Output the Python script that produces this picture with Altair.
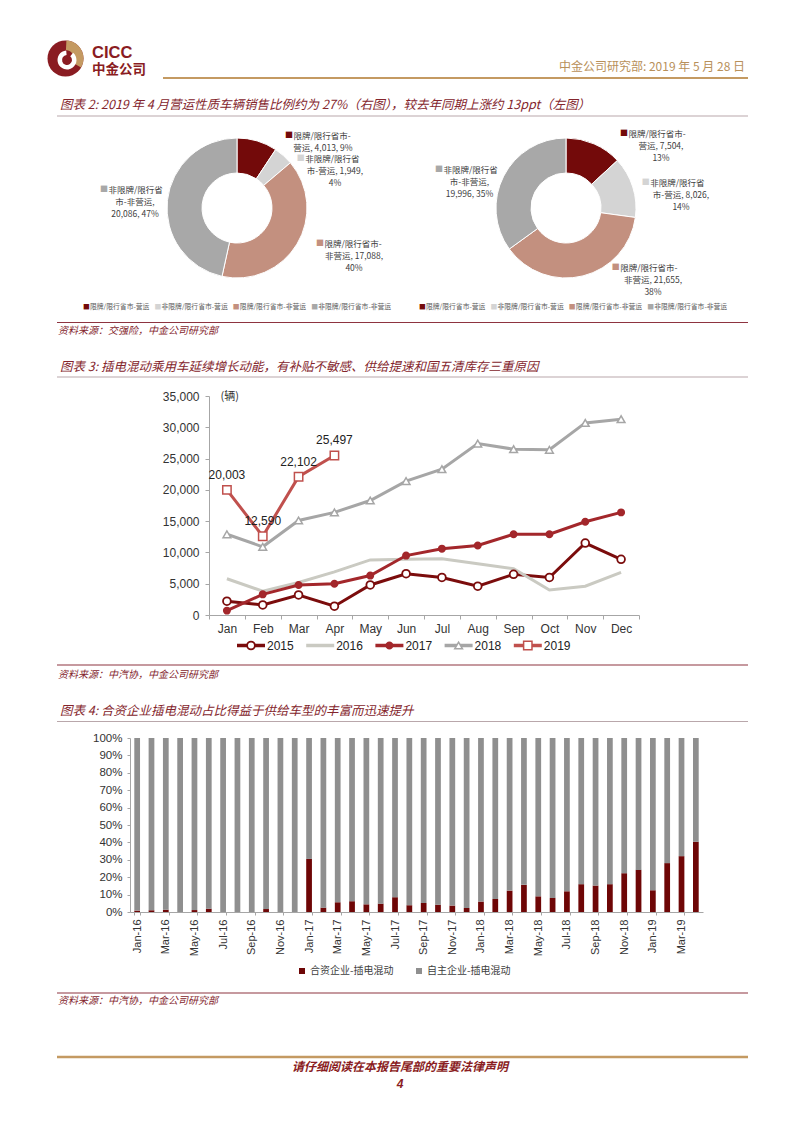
import altair as alt
import pandas as pd

CJK = "Noto Sans CJK SC"
SANS = "Liberation Sans"
MAROON = "#84252C"
DARKRED = "#8A1C22"
GOLD = "#C49A62"
TITLE_LINE = "#B9A7AB"
SRC_LINE = "#8E3440"
TXT = "#333333"

# ---------------- texts ----------------
logo_en = "CICC"
logo_cn = "中金公司"
header_text = "中金公司研究部: 2019 年 5 月 28 日"
title2 = "图表 2: 2019 年 4 月营运性质车辆销售比例约为 27%（右图），较去年同期上涨约 13ppt（左图）"
title3 = "图表 3: 插电混动乘用车延续增长动能，有补贴不敏感、供给提速和国五清库存三重原因"
title4 = "图表 4: 合资企业插电混动占比得益于供给车型的丰富而迅速提升"
source2 = "资料来源：交强险，中金公司研究部"
source3 = "资料来源：中汽协，中金公司研究部"
source4 = "资料来源：中汽协，中金公司研究部"
footer = "请仔细阅读在本报告尾部的重要法律声明"
page_no = "4"

# ---------------- donut data ----------------
donut_cats = ["限牌/限行省市-营运", "非限牌/限行省市-营运", "限牌/限行省市-非营运", "非限牌/限行省市-非营运"]
donut_colors = ["#730A0A", "#D4D4D4", "#C3907F", "#A8A8A8"]
left_vals = [4013, 1949, 17088, 20086]
left_pcts = [9, 4, 40, 47]
right_vals = [7504, 8026, 21655, 19996]
right_pcts = [13, 14, 38, 35]

left_label_lines = [
    ["限牌/限行省市-", f"营运, {left_vals[0]:,}, {left_pcts[0]}%"],
    ["非限牌/限行省", f"市-营运, {left_vals[1]:,},", f"{left_pcts[1]}%"],
    ["限牌/限行省市-", f"非营运, {left_vals[2]:,},", f"{left_pcts[2]}%"],
    ["非限牌/限行省", "市-非营运,", f"{left_vals[3]:,}, {left_pcts[3]}%"],
]
right_label_lines = [
    ["限牌/限行省市-", f"营运, {right_vals[0]:,},", f"{right_pcts[0]}%"],
    ["非限牌/限行省", f"市-营运, {right_vals[1]:,},", f"{right_pcts[1]}%"],
    ["限牌/限行省市-", f"非营运, {right_vals[2]:,},", f"{right_pcts[2]}%"],
    ["非限牌/限行省", "市-非营运,", f"{right_vals[3]:,}, {right_pcts[3]}%"],
]

# ---------------- line chart data ----------------
months = ["Jan", "Feb", "Mar", "Apr", "May", "Jun", "Jul", "Aug", "Sep", "Oct", "Nov", "Dec"]
series = ["2015", "2016", "2017", "2018", "2019"]
v2015 = [2200, 1600, 3200, 1400, 4800, 6600, 6000, 4600, 6500, 6000, 11500, 8900]
v2016 = [5800, 3800, 5200, 6900, 8800, 8900, 9000, 8200, 7400, 4000, 4600, 6800]
v2017 = [700, 3300, 4800, 5000, 6300, 9500, 10600, 11100, 12900, 12900, 14900, 16400]
v2018 = [12900, 10900, 15100, 16400, 18300, 21400, 23300, 27400, 26500, 26400, 30700, 31300]
v2019 = [20003, 12590, 22102, 25497]
line_colors = ["#7B0C0C", "#CACAC2", "#A3272B", "#A6A6A6", "#C0504D"]
y_unit = "(辆)"

# marker style per series (2016 has none)
marker_specs = [("2015", "circle", "#FFFFFF", 60, 1.8),
                ("2017", "circle", "#A3272B", 42, 1.5),
                ("2018", "triangle-up", "#FFFFFF", 60, 1.5),
                ("2019", "square", "#FFFFFF", 70, 1.5)]

# ---------------- bar chart data ----------------
bar_months = [f"{m}-{y}" for y in ["16", "17", "18", "19"] for m in months][:40]
jv_share = [0.8, 1.0, 1.3, 0, 1.1, 1.9, 0, 0, 0, 1.7, 0, 0,
            30.5, 2.5, 5.6, 6.2, 4.4, 4.8, 8.5, 3.9, 5.2, 4.2, 3.7, 2.3,
            6.0, 7.5, 12.3, 15.6, 9.0, 8.1, 11.9, 16.0, 15.2, 16.0, 22.3, 24.2,
            12.5, 28.1, 32.1, 40.4]
bar_series = ["合资企业-插电混动", "自主企业-插电混动"]
bar_colors = ["#6E0606", "#8F8F8F"]

DUMMY = pd.DataFrame({"d": [0]})
ALL_INDEP = dict(color="independent", stroke="independent", fill="independent", shape="independent",
                 x="independent", y="independent")


def txt(s, px, py, org, size, color, align="left", font=CJK, weight="normal",
        style="normal", baseline="middle"):
    return alt.Chart(DUMMY).mark_text(
        align=align, baseline=baseline, fontSize=size, color=color, font=font,
        fontWeight=weight, fontStyle=style
    ).encode(x=alt.value(px - org[0]), y=alt.value(py - org[1]), text=alt.value(s))


def hrule(px1, px2, py, org, color, w):
    return alt.Chart(DUMMY).mark_rule(color=color, strokeWidth=w).encode(
        x=alt.value(px1 - org[0]), x2=alt.value(px2 - org[0]), y=alt.value(py - org[1]))


def arc(pcx, pcy, org, r0, r1, t0, t1, color):
    return alt.Chart(DUMMY).mark_arc(
        innerRadius=r0, outerRadius=r1, theta=t0, theta2=t1, color=color
    ).encode(x=alt.value(pcx - org[0]), y=alt.value(pcy - org[1]))


def text_w(s, size):
    w = 0
    for c in s:
        w += size if ord(c) > 0x2E80 else size * 0.45
    return w


# ================= ROW 1 =================
O1 = (8, 8)
layers1 = []
LX, LY = 65.5, 58.5
layers1.append(arc(LX, LY, O1, 0, 18, 0, 6.2832, DARKRED))
layers1.append(arc(LX, LY, O1, 8.5, 18, 0.05, 2.1, GOLD))
layers1.append(arc(LX + 1.5, LY + 1.5, O1, 5, 9.5, 0.7, 6.2, "#FFFFFF"))
layers1.append(txt(logo_en, 92, 57.5, O1, 16.5, DARKRED, font=SANS, weight="bold", baseline="alphabetic"))
layers1.append(txt(logo_cn, 92, 73.5, O1, 13.5, DARKRED, weight="bold", baseline="alphabetic"))
layers1.append(txt(header_text, 745, 67, O1, 12, "#B8905A", align="right"))
layers1.append(hrule(163, 748, 78, O1, GOLD, 2))
layers1.append(txt(title2, 60, 104.5, O1, 12.5, MAROON, style="italic"))
layers1.append(hrule(57, 748, 116, O1, TITLE_LINE, 1))


def donut(vals, pcx, pcy):
    df = pd.DataFrame({"cat": donut_cats, "value": vals, "idx": list(range(len(vals)))})
    return alt.Chart(df).mark_arc(innerRadius=35, outerRadius=70, stroke="white", strokeWidth=1).encode(
        theta=alt.Theta("value:Q", stack=True),
        color=alt.Color("cat:N", scale=alt.Scale(domain=donut_cats, range=donut_colors), legend=None),
        order=alt.Order("idx:Q"),
        x=alt.value(pcx - O1[0]), y=alt.value(pcy - O1[1]),
    )


layers1.append(donut(left_vals, 237, 208))
layers1.append(donut(right_vals, 566, 208))

left_anchor = [(285, 135.7, 323), (296.7, 159, 335), (316, 244, 354), (100, 190, 135)]
right_anchor = [(620, 134, 661), (641.7, 183.3, 681), (611.7, 267.7, 653), (435, 170, 469.5)]
for lines, anchors in [(left_label_lines, left_anchor), (right_label_lines, right_anchor)]:
    for i, (ls, (sx, y1, cx)) in enumerate(zip(lines, anchors)):
        layers1.append(txt("■", sx, y1, O1, 8, donut_colors[i]))
        layers1.append(txt(ls[0], sx + 8.5, y1, O1, 8.5, "#404040"))
        for j, l in enumerate(ls[1:]):
            layers1.append(txt(l, cx, y1 + 12 * (j + 1), O1, 8.5, "#404040", align="center"))

for start in [83, 419]:
    x = start
    for i, c in enumerate(donut_cats):
        layers1.append(txt("■", x, 307, O1, 6.8, donut_colors[i]))
        layers1.append(txt(c, x + 7, 307, O1, 6.8, "#595959"))
        x += 7 + text_w(c, 6.8) + 4

layers1.append(hrule(57, 748, 322.5, O1, SRC_LINE, 1.2))
layers1.append(txt(source2, 58, 331, O1, 10, MAROON, style="italic"))
layers1.append(txt(title3, 60, 366.5, O1, 12.5, MAROON, style="italic"))
layers1.append(hrule(57, 748, 377, O1, TITLE_LINE, 1))

row1 = alt.layer(*layers1).resolve_scale(theta="independent").properties(width=786, height=388)

# ================= ROW 2 (line chart) =================
recs = []
for s, vals in zip(series, [v2015, v2016, v2017, v2018, v2019]):
    for m, v in zip(months, vals):
        recs.append({"series": s, "month": m, "value": v})
df_line = pd.DataFrame(recs)

stroke_scale = alt.Scale(domain=series, range=line_colors)
X = alt.X("month:N", scale=alt.Scale(type="band", domain=months, paddingInner=0, paddingOuter=0),
          bandPosition=0.5,
          axis=alt.Axis(title=None, labelAngle=0, tickBand="extent", labelFont=SANS, labelFontSize=12,
                        labelColor=TXT, domainColor="#A6A6A6", tickColor="#A6A6A6", tickSize=4,
                        labelPadding=4))
Y = alt.Y("value:Q", scale=alt.Scale(domain=[0, 35000]),
          axis=alt.Axis(values=list(range(0, 35001, 5000)), format=",.0f", grid=False,
                        labelFont=SANS, labelFontSize=12, labelColor=TXT, domainColor="#A6A6A6",
                        tickColor="#A6A6A6", tickSize=4, labelPadding=6,
                        title=y_unit, titleAngle=0, titleX=11, titleY=0, titleAlign="left",
                        titleBaseline="middle", titleFont=CJK, titleFontSize=11,
                        titleFontWeight="normal", titleColor=TXT))

lines = alt.Chart(df_line).mark_line(strokeWidth=3).encode(
    x=X, y=Y, stroke=alt.Stroke("series:N", scale=stroke_scale, legend=None), detail="series:N")

point_layers = []
for s, shp, fc, sz, sw in marker_specs:
    point_layers.append(
        alt.Chart(df_line).transform_filter(alt.datum.series == s).mark_point(
            shape=shp, fill=fc, filled=False, size=sz, strokeWidth=sw, opacity=1
        ).encode(x=X, y=Y, stroke=alt.Stroke("series:N", scale=stroke_scale, legend=None))
    )

labels19 = alt.Chart(df_line).transform_filter(alt.datum.series == "2019").mark_text(
    dy=-15, fontSize=12, font=SANS, color="#222222").encode(
    x=X, y=Y, text=alt.Text("value:Q", format=","))

line_chart = alt.layer(lines, *point_layers, labels19).properties(width=430, height=219)
spacer2 = alt.Chart(DUMMY).mark_text(text="").encode(x=alt.value(0), y=alt.value(0)).properties(width=201, height=219)
row2 = alt.hconcat(spacer2, line_chart, spacing=0, bounds="flush").resolve_scale(**ALL_INDEP)

# ================= ROW 3 (nested hconcat rows take no height in flush layout) =================
O3 = (8, 396)
# line-chart legend: entries laid out from the series list (pixel scale = identity)
LEG_X0, LEG_STEP, LEG_SYM, LEG_Y = 237, 69.2, 28, 645.5
leg_df = pd.DataFrame({"series": series})
leg_df["i"] = range(len(series))
leg_df["x0"] = LEG_X0 - O3[0] + leg_df["i"] * LEG_STEP
leg_df["x1"] = leg_df["x0"] + LEG_SYM
leg_df["xm"] = leg_df["x0"] + LEG_SYM / 2
leg_df["xt"] = leg_df["x1"] + 2
leg_df["y"] = LEG_Y - O3[1]

LXs = alt.X("x0:Q", scale=None)
LYs = alt.Y("y:Q", scale=None)
leg_lines = alt.Chart(leg_df).mark_rule(strokeWidth=3.5).encode(
    x=LXs, x2="x1:Q", y=LYs, color=alt.Color("series:N", scale=stroke_scale, legend=None))
leg_marks = []
for s, shp, fc, sz, sw in marker_specs:
    leg_marks.append(
        alt.Chart(leg_df).transform_filter(alt.datum.series == s).mark_point(
            shape=shp, fill=fc, filled=False, size=sz, strokeWidth=sw, opacity=1
        ).encode(x=alt.X("xm:Q", scale=None), y=LYs,
                 stroke=alt.Stroke("series:N", scale=stroke_scale, legend=None))
    )
leg_text = alt.Chart(leg_df).mark_text(align="left", baseline="middle", font=SANS, fontSize=12,
                                       color="#222222").encode(
    x=alt.X("xt:Q", scale=None), y=LYs, text="series:N")

layers3 = [
    leg_lines, *leg_marks, leg_text,
    hrule(57, 748, 665, O3, SRC_LINE, 1.2),
    txt(source3, 58, 674.5, O3, 10, MAROON, style="italic"),
    txt(title4, 60, 710.5, O3, 12.5, MAROON, style="italic"),
    hrule(57, 748, 721.5, O3, TITLE_LINE, 1),
]
row3 = alt.layer(*layers3).properties(width=786, height=342)

# ================= ROW 4 (bar chart) =================
brecs = []
for m, v in zip(bar_months, jv_share):
    brecs.append({"month": m, "series": bar_series[0], "share": v / 100.0, "ord": 0})
    brecs.append({"month": m, "series": bar_series[1], "share": (100 - v) / 100.0, "ord": 1})
df_bar = pd.DataFrame(brecs)

bar_chart = alt.Chart(df_bar).mark_bar().encode(
    x=alt.X("month:N", scale=alt.Scale(domain=bar_months, paddingInner=0.6, paddingOuter=0.3),
            axis=alt.Axis(title=None, values=bar_months[::2], labelAngle=-90, tickBand="extent",
                          labelFont=SANS, labelFontSize=11, labelColor=TXT, domainColor="#A6A6A6",
                          tickColor="#A6A6A6", tickSize=3, labelPadding=4)),
    y=alt.Y("share:Q", stack="zero", scale=alt.Scale(domain=[0, 1]),
            axis=alt.Axis(title=None, values=[i / 10 for i in range(11)], format=".0%", grid=False,
                          labelFont=SANS, labelFontSize=11.5, labelColor=TXT, domainColor="#A6A6A6",
                          tickColor="#A6A6A6", tickSize=3, labelPadding=5)),
    color=alt.Color("series:N", scale=alt.Scale(domain=bar_series, range=bar_colors),
                    legend=alt.Legend(orient="none", legendX=167, legendY=228, direction="horizontal",
                                      title=None, symbolType="square", symbolSize=36,
                                      labelFont=CJK, labelFontSize=10, labelColor="#404040",
                                      columnPadding=20, labelOffset=3, padding=0)),
    order=alt.Order("ord:Q"),
).properties(width=573, height=174)
spacer4 = alt.Chart(DUMMY).mark_text(text="").encode(x=alt.value(0), y=alt.value(0)).properties(width=122, height=174)
row4 = alt.hconcat(spacer4, bar_chart, spacing=0, bounds="flush").resolve_scale(**ALL_INDEP)

# ================= ROW 5 =================
O5 = (8, 738)
layers5 = [
    hrule(57, 748, 993, O5, SRC_LINE, 1.2),
    txt(source4, 58, 1001, O5, 10, MAROON, style="italic"),
    hrule(57, 748, 1057, O5, GOLD, 2.5),
    txt(footer, 400, 1067, O5, 12, DARKRED, align="center", weight="bold", style="italic"),
    txt(page_no, 400, 1084, O5, 12, DARKRED, align="center", weight="bold", style="italic", font=SANS),
]
row5 = alt.layer(*layers5).properties(width=786, height=364)

chart = alt.vconcat(row1, row2, row3, row4, row5, spacing=0, bounds="flush").resolve_scale(
    theta="independent", **ALL_INDEP
).properties(padding=0).configure_view(strokeWidth=0)

chart.save("out.html", embed_options={"renderer": "svg", "actions": False})
